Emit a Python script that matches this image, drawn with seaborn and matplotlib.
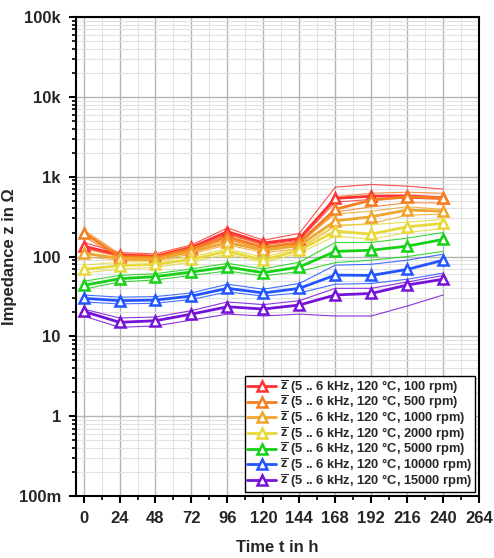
import numpy as np
import pandas as pd
import matplotlib
matplotlib.use("Agg")
import matplotlib.pyplot as plt
import seaborn as sns
from matplotlib.ticker import FixedLocator, MultipleLocator, NullFormatter, LogLocator

sns.set_theme(style="white")
plt.rcParams['font.family'] = ['Liberation Sans', 'DejaVu Sans']
plt.rcParams['mathtext.fontset'] = 'custom'
plt.rcParams['mathtext.bf'] = 'Liberation Sans:bold'
plt.rcParams['mathtext.rm'] = 'Liberation Sans'

hours = [0, 24, 48, 72, 96, 120, 144, 168, 192, 216, 240]
speeds = ["100", "500", "1000", "2000", "5000", "10000", "15000"]
colors = ['#FF3333', '#F57F20', '#EFA52E', '#E8D83A', '#17D117', '#2255FF', '#7612D8']

mean_100 = [135, 105, 100, 130, 205, 148, 168, 535, 570, 575, 545]
mean_500 = [200, 100, 97, 125, 177, 130, 150, 390, 510, 560, 540]
mean_1000 = [110, 95, 93, 115, 150, 120, 137, 280, 315, 382, 370]
mean_2000 = [69, 77, 80, 92, 117, 90, 120, 208, 191, 236, 260]
mean_5000 = [43.5, 52.7, 56, 64, 74, 62.7, 74, 116, 120, 135, 164]
mean_10000 = [30, 28, 28.5, 32, 40, 35, 40, 58.6, 58, 69, 90]
mean_15000 = [20.6, 15, 15.7, 19, 23.5, 22, 24.7, 33, 34.5, 44, 52]

up_100 = [150, 112, 108, 140, 228, 160, 195, 740, 800, 760, 700]
lo_100 = [128, 100, 96, 125, 190, 140, 160, 480, 520, 540, 520]
up_500 = [215, 108, 104, 135, 195, 140, 170, 560, 620, 640, 620]
lo_500 = [180, 96, 92, 118, 165, 122, 142, 360, 420, 470, 470]
up_1000 = [125, 100, 98, 122, 165, 130, 150, 340, 370, 420, 390]
lo_1000 = [100, 90, 88, 108, 140, 112, 125, 240, 260, 330, 340]
up_2000 = [78, 85, 87, 100, 125, 98, 128, 250, 250, 270, 290]
lo_2000 = [62, 70, 73, 85, 108, 84, 110, 180, 165, 200, 225]
up_5000 = [49, 58, 61, 70, 82, 70, 85, 150, 150, 170, 200]
lo_5000 = [39, 48, 51, 58, 66, 57, 65, 84, 90, 100, 116]
up_10000 = [33, 31, 31.5, 35, 45, 39, 46, 78, 80, 90, 107]
lo_10000 = [27, 25.5, 26, 29, 36, 32, 35, 45, 46, 52, 62]
up_15000 = [22, 17, 17.5, 21, 27, 25, 28, 40, 40, 48, 58]
lo_15000 = [18, 13, 13.5, 16, 19, 18, 19, 18, 18, 24, 33]

means = [mean_100, mean_500, mean_1000, mean_2000, mean_5000, mean_10000, mean_15000]
uppers = [up_100, up_500, up_1000, up_2000, up_5000, up_10000, up_15000]
lowers = [lo_100, lo_500, lo_1000, lo_2000, lo_5000, lo_10000, lo_15000]

ytick_vals = [0.1, 1, 10, 100, 1000, 10000, 100000]
ytick_labels = ["100m", "1", "10", "100", "1k", "10k", "100k"]
xtick_vals = list(range(0, 265, 24))

fig = plt.figure(figsize=(4.94, 5.58), dpi=100)
ax = fig.add_axes([0.154, 0.111, 0.816, 0.8585])
ax.set_yscale('log')

for sp, col, m, u, l in zip(speeds, colors, means, uppers, lowers):
    for thin in (u, l):
        sns.lineplot(x=hours, y=thin, ax=ax, color=col, linewidth=0.8, alpha=0.85, zorder=3)
for sp, col, m in zip(speeds, colors, means):
    label = r"$\mathbf{\overline{z}}$" + f" (5 .. 6 kHz, 120 °C, {sp} rpm)"
    sns.lineplot(x=hours, y=m, ax=ax, color=col, linewidth=2.0, marker='^',
                 markersize=7.5, markerfacecolor='white', markeredgecolor=col,
                 markeredgewidth=1.8, label=label, zorder=4)

ax.set_xlim(-5, 264)
ax.set_ylim(0.1, 100000)
ax.xaxis.set_major_locator(FixedLocator(xtick_vals))
ax.xaxis.set_minor_locator(MultipleLocator(12))
ax.set_xticklabels([str(v) for v in xtick_vals], fontsize=12, fontweight='bold')
ax.yaxis.set_major_locator(FixedLocator(ytick_vals))
ax.yaxis.set_minor_locator(LogLocator(base=10, subs=np.arange(2, 10), numticks=20))
ax.yaxis.set_minor_formatter(NullFormatter())
ax.set_yticklabels(ytick_labels, fontsize=12, fontweight='bold')

ax.grid(True, which='major', color='#b4b4b4', linewidth=1.0, zorder=0)
ax.grid(True, which='minor', color='#e2e2e2', linewidth=0.8, zorder=0)
ax.set_axisbelow(True)

ax.tick_params(axis='both', which='major', direction='out', length=5, width=1.5,
               color='black', left=True, bottom=True)
ax.tick_params(axis='y', which='major', pad=6)
ax.tick_params(axis='x', which='major', pad=6)
ax.tick_params(axis='both', which='minor', direction='out', length=3, width=1.2,
               color='black', left=True, bottom=True)
for s in ax.spines.values():
    s.set_visible(True)
    s.set_color('black')
    s.set_linewidth(1.5)

ax.set_xlabel("Time t in h", fontsize=12, fontweight='bold', labelpad=10)
ax.set_ylabel("Impedance z in Ω", fontsize=12, fontweight='bold', labelpad=1)

leg = ax.legend(loc='lower right', fontsize=9.3, frameon=True, fancybox=False,
                edgecolor='black', framealpha=1, borderpad=0.2, labelspacing=-0.12,
                handlelength=2.25, handletextpad=0.3, borderaxespad=0.3)
leg.get_frame().set_linewidth(1.0)
for t in leg.get_texts():
    t.set_fontweight('bold')

fig.savefig("out.png", dpi=100)
